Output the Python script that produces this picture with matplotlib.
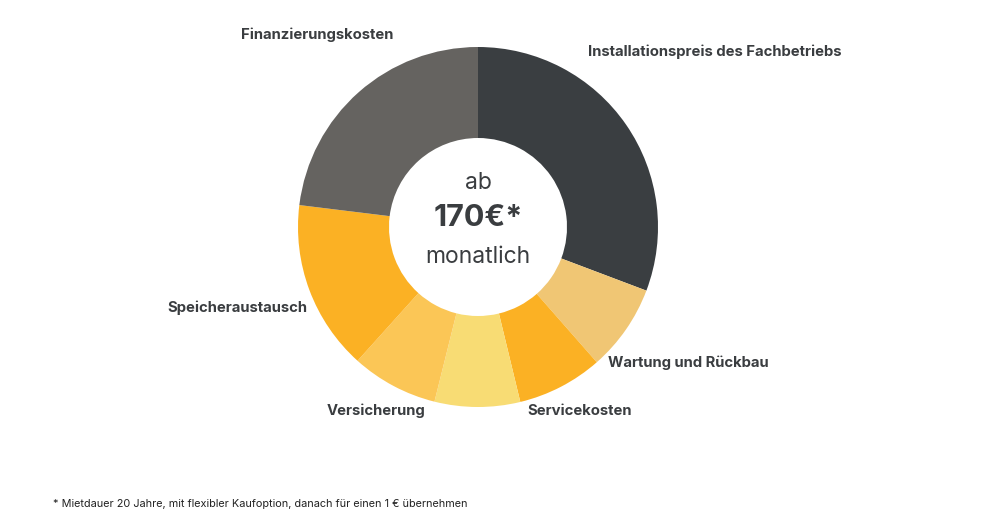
import matplotlib.pyplot as plt

# Kostenanteile in Grad, im Uhrzeigersinn ab 12 Uhr
segments = ["Installationspreis des Fachbetriebs", "Wartung und Rückbau", "Servicekosten",
            "Servicepauschale", "Versicherung", "Speicheraustausch", "Finanzierungskosten"]
shares = [110.7, 28.0, 27.7, 27.6, 28.0, 55.0, 83.0]
colors = ["#3a3e41", "#f0c674", "#fbb124", "#f8dc74", "#fbc656", "#fbb124", "#656360"]

center_lines = ["ab", "170€*", "monatlich"]
footnote = "* Mietdauer 20 Jahre, mit flexibler Kaufoption, danach für einen 1 € übernehmen"

W, H = 1005, 523
TEXT = "#3a3d40"
plt.rcParams["font.family"] = ["Inter", "DejaVu Sans"]

fig = plt.figure(figsize=(W / 100, H / 100), dpi=100)
ax = fig.add_axes([0, 0, 1, 1])

cx, cy, r_out, r_in = 478, H - 227, 180, 89
ax.pie(shares, colors=colors, startangle=90, counterclock=False,
       center=(cx, cy), radius=r_out,
       wedgeprops=dict(width=r_out - r_in, linewidth=0))
ax.set_xlim(0, W)
ax.set_ylim(0, H)
ax.set_aspect("equal")
ax.axis("off")

# Beschriftungen aussen (linke Kante, Mitte in Pixeln von oben)
label_pos = {
    "Finanzierungskosten": (241, 35),
    "Installationspreis des Fachbetriebs": (588, 52),
    "Speicheraustausch": (167, 308),
    "Versicherung": (327, 411),
    "Servicekosten": (527, 411),
    "Wartung und Rückbau": (608, 363),
}
for name, (x, y) in label_pos.items():
    ax.text(x, H - y, name, ha="left", va="center", fontsize=10.7,
            fontweight="bold", color=TEXT)

# Text in der Mitte
ax.text(cx, H - 183, center_lines[0], ha="center", va="center", fontsize=16.5, color=TEXT)
ax.text(cx, H - 218, center_lines[1], ha="center", va="center", fontsize=22,
        fontweight="bold", color=TEXT)
ax.text(cx, H - 257, center_lines[2], ha="center", va="center", fontsize=16.5, color=TEXT)

ax.text(53, H - 504, footnote, ha="left", va="center", fontsize=7.85, color="#222222")

fig.savefig("out.png", dpi=100)
